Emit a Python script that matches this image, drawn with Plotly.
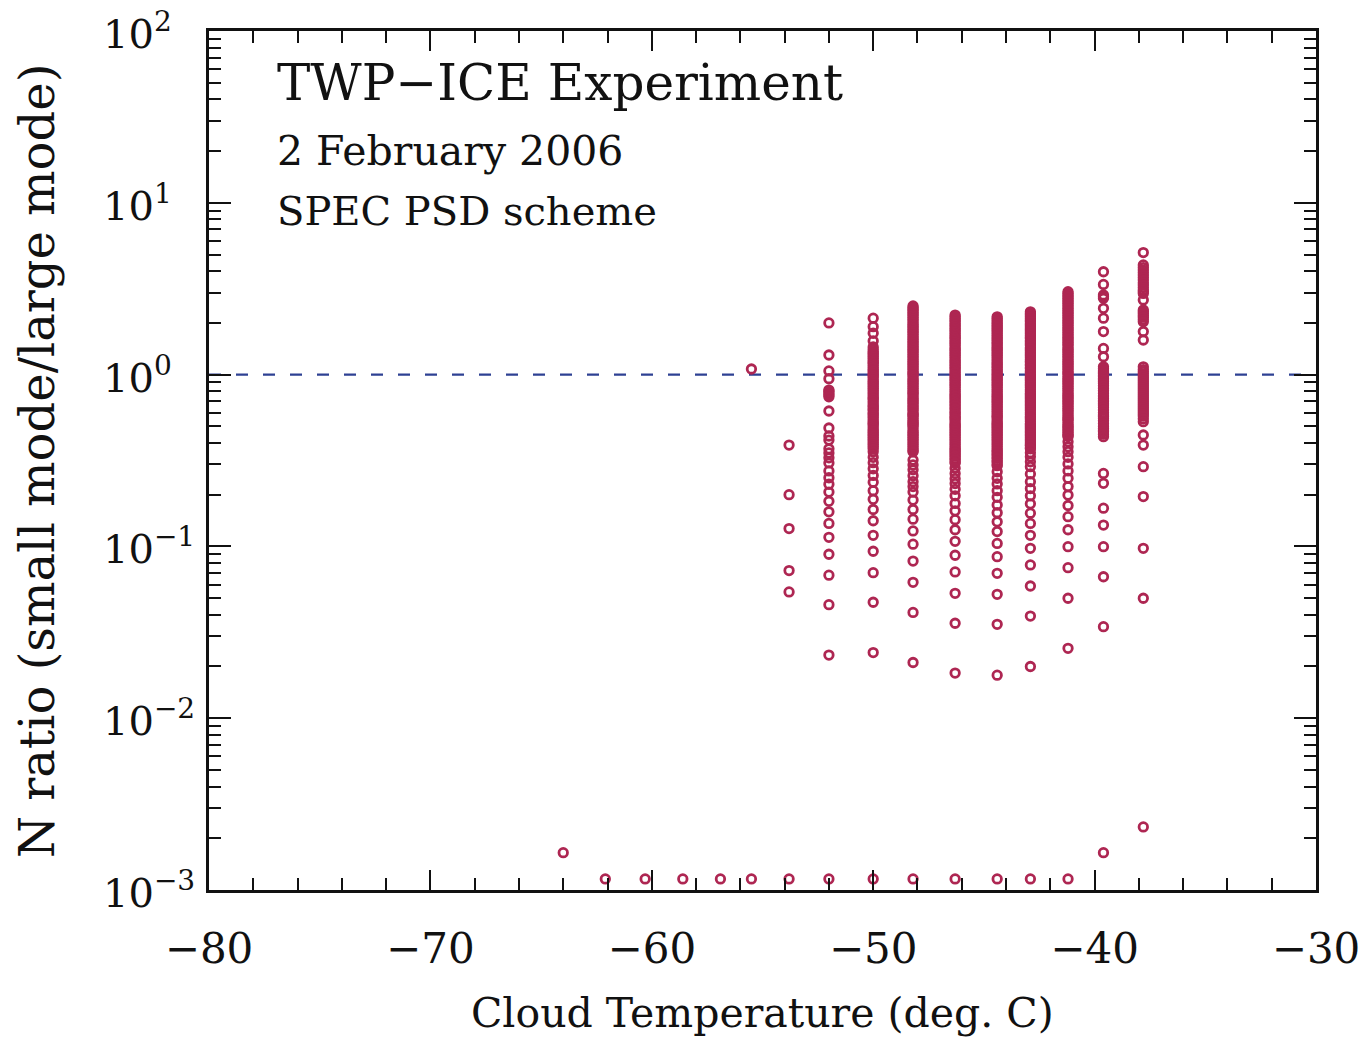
import plotly.graph_objects as go

# ---------------- data ----------------
col_temps = [-55.5, -53.8, -52.0, -50.0, -48.2, -46.3, -44.4, -42.9, -41.2, -39.6, -37.8]

vals_m55_5 = [1.078]
vals_m53_8 = [0.389, 0.200, 0.127, 0.0723, 0.0543]
vals_m52_0 = [2.00, 1.30, 1.05, 0.946, 0.813, 0.80, 0.78, 0.76, 0.743, 0.614, 0.489, 0.439,
              0.416, 0.370, 0.350, 0.328, 0.306, 0.275, 0.251, 0.230, 0.207, 0.183, 0.159,
              0.136, 0.113, 0.090, 0.068, 0.0458, 0.0233]
vals_m50_0 = [2.13, 1.90, 1.74, 1.57, 1.45, 1.40, 1.36, 1.33, 1.30, 1.27, 1.24, 1.21, 1.18,
              1.16, 1.13, 1.10, 1.07, 1.05, 1.02, 1.00, 0.98, 0.96, 0.93, 0.91, 0.89, 0.87,
              0.85, 0.83, 0.81, 0.79, 0.77, 0.75, 0.73, 0.72, 0.70, 0.68, 0.66, 0.65, 0.63,
              0.62, 0.60, 0.59, 0.575, 0.56, 0.545, 0.53, 0.52, 0.51, 0.495, 0.48, 0.47,
              0.46, 0.45, 0.44, 0.43, 0.42, 0.41, 0.40, 0.39, 0.38, 0.37, 0.356, 0.330,
              0.307, 0.283, 0.259, 0.236, 0.211, 0.188, 0.164, 0.141, 0.116, 0.0937, 0.0703,
              0.0473, 0.0241]
vals_m48_2 = [2.51, 2.45, 2.40, 2.35, 2.30, 2.25, 2.20, 2.15, 2.10, 2.05, 2.00, 1.95, 1.91,
              1.87, 1.83, 1.79, 1.75, 1.71, 1.67, 1.63, 1.60, 1.56, 1.53, 1.49, 1.46, 1.43,
              1.40, 1.37, 1.34, 1.31, 1.28, 1.25, 1.22, 1.19, 1.17, 1.14, 1.12, 1.09, 1.07,
              1.04, 1.02, 1.00, 0.98, 0.95, 0.93, 0.91, 0.89, 0.87, 0.85, 0.83, 0.81, 0.79,
              0.78, 0.76, 0.74, 0.72, 0.71, 0.69, 0.68, 0.66, 0.65, 0.63, 0.62, 0.60, 0.59,
              0.58, 0.57, 0.555, 0.54, 0.53, 0.52, 0.51, 0.50, 0.485, 0.47, 0.46, 0.45, 0.44,
              0.43, 0.42, 0.41, 0.40, 0.39, 0.38, 0.37, 0.36, 0.355, 0.318, 0.298, 0.279,
              0.258, 0.238, 0.223, 0.207, 0.186, 0.164, 0.144, 0.123, 0.103, 0.0822, 0.0618,
              0.0413, 0.0211]
vals_m46_3 = [2.22, 2.17, 2.12, 2.07, 2.03, 1.98, 1.94, 1.89, 1.85, 1.81, 1.77, 1.73, 1.69,
              1.65, 1.62, 1.58, 1.55, 1.51, 1.48, 1.44, 1.41, 1.38, 1.35, 1.32, 1.29, 1.26,
              1.23, 1.20, 1.18, 1.15, 1.13, 1.10, 1.08, 1.05, 1.03, 1.00, 0.98, 0.96, 0.94,
              0.92, 0.90, 0.88, 0.86, 0.84, 0.82, 0.80, 0.78, 0.76, 0.75, 0.73, 0.72, 0.70,
              0.69, 0.67, 0.66, 0.64, 0.63, 0.61, 0.60, 0.585, 0.57, 0.56, 0.55, 0.535,
              0.52, 0.51, 0.50, 0.49, 0.48, 0.47, 0.46, 0.45, 0.44, 0.43, 0.42, 0.41, 0.40,
              0.39, 0.38, 0.37, 0.365, 0.355, 0.35, 0.34, 0.335, 0.325, 0.32, 0.31, 0.305,
              0.285, 0.266, 0.248, 0.232, 0.215, 0.197, 0.178, 0.161, 0.143, 0.125, 0.107,
              0.0888, 0.0710, 0.0533, 0.0357, 0.0183]
vals_m44_4 = [2.17, 2.12, 2.07, 2.02, 1.98, 1.93, 1.89, 1.85, 1.81, 1.77, 1.73, 1.69, 1.65,
              1.61, 1.58, 1.54, 1.51, 1.47, 1.44, 1.41, 1.38, 1.35, 1.32, 1.29, 1.26, 1.23,
              1.20, 1.17, 1.15, 1.12, 1.10, 1.07, 1.05, 1.02, 1.00, 0.98, 0.96, 0.94, 0.92,
              0.90, 0.88, 0.86, 0.84, 0.82, 0.80, 0.78, 0.76, 0.745, 0.73, 0.715, 0.70, 0.685,
              0.67, 0.655, 0.64, 0.625, 0.61, 0.595, 0.58, 0.57, 0.56, 0.545, 0.53, 0.52,
              0.51, 0.50, 0.49, 0.48, 0.47, 0.46, 0.45, 0.44, 0.43, 0.42, 0.41, 0.40, 0.39,
              0.38, 0.37, 0.36, 0.355, 0.345, 0.34, 0.33, 0.325, 0.315, 0.31, 0.30, 0.295,
              0.272, 0.249, 0.231, 0.211, 0.193, 0.174, 0.157, 0.139, 0.122, 0.104, 0.0871,
              0.0697, 0.0526, 0.0352, 0.0178]
vals_m42_9 = [2.32, 2.27, 2.22, 2.17, 2.12, 2.07, 2.03, 1.98, 1.94, 1.89, 1.85, 1.81, 1.77,
              1.73, 1.69, 1.65, 1.62, 1.58, 1.55, 1.51, 1.48, 1.44, 1.41, 1.38, 1.35, 1.32,
              1.29, 1.26, 1.23, 1.20, 1.18, 1.15, 1.13, 1.10, 1.08, 1.05, 1.03, 1.00, 0.98,
              0.96, 0.94, 0.92, 0.90, 0.88, 0.86, 0.84, 0.82, 0.80, 0.78, 0.765, 0.75, 0.735,
              0.72, 0.705, 0.69, 0.675, 0.66, 0.645, 0.63, 0.615, 0.60, 0.585, 0.57, 0.56,
              0.55, 0.535, 0.52, 0.51, 0.50, 0.49, 0.48, 0.47, 0.46, 0.45, 0.44, 0.43, 0.42,
              0.41, 0.40, 0.39, 0.385, 0.375, 0.37, 0.351, 0.333, 0.311, 0.291, 0.264, 0.238,
              0.217, 0.197, 0.177, 0.156, 0.136, 0.116, 0.0975, 0.0780, 0.0588, 0.0393, 0.0200]
vals_m41_2 = [3.04, 2.97, 2.90, 2.83, 2.77, 2.71, 2.65, 2.59, 2.53, 2.47, 2.42, 2.36, 2.31,
              2.26, 2.21, 2.16, 2.11, 2.06, 2.02, 1.97, 1.93, 1.88, 1.84, 1.80, 1.76, 1.72,
              1.68, 1.64, 1.61, 1.57, 1.54, 1.50, 1.47, 1.43, 1.40, 1.37, 1.34, 1.31, 1.28,
              1.25, 1.22, 1.19, 1.17, 1.14, 1.12, 1.09, 1.07, 1.04, 1.02, 1.00, 0.97, 0.95,
              0.93, 0.91, 0.89, 0.87, 0.85, 0.83, 0.81, 0.79, 0.77, 0.755, 0.74, 0.725, 0.71,
              0.695, 0.68, 0.665, 0.65, 0.635, 0.62, 0.605, 0.59, 0.575, 0.56, 0.55, 0.54,
              0.525, 0.51, 0.50, 0.49, 0.48, 0.47, 0.46, 0.45, 0.44, 0.436, 0.407, 0.380,
              0.356, 0.330, 0.302, 0.275, 0.249, 0.223, 0.199, 0.173, 0.149, 0.125, 0.0996,
              0.0752, 0.0499, 0.0255]
vals_m39_6 = [3.97, 3.35, 2.91, 2.84, 2.78, 2.43, 2.13, 1.78, 1.42, 1.27, 1.11, 1.08, 1.05,
              1.03, 1.01, 0.99, 0.972, 0.95, 0.93, 0.91, 0.89, 0.86, 0.832, 0.805, 0.778,
              0.75, 0.728, 0.71, 0.695, 0.68, 0.665, 0.645, 0.622, 0.60, 0.582, 0.57, 0.557,
              0.538, 0.520, 0.50, 0.486, 0.475, 0.465, 0.45, 0.435, 0.266, 0.233, 0.167,
              0.133, 0.0996, 0.0666, 0.0341]
vals_m37_8 = [5.13, 4.35, 4.20, 4.06, 3.93, 3.80, 3.67, 3.55, 3.43, 3.32, 3.21, 3.11, 3.04,
              2.97, 2.72, 2.38, 2.32, 2.27, 2.21, 2.16, 2.09, 2.03, 1.78, 1.59, 1.11, 1.07,
              1.04, 1.01, 0.982, 0.955, 0.930, 0.905, 0.881, 0.858, 0.836, 0.814, 0.792,
              0.771, 0.751, 0.731, 0.711, 0.692, 0.674, 0.656, 0.639, 0.622, 0.606, 0.59,
              0.574, 0.553, 0.532, 0.445, 0.389, 0.291, 0.195, 0.0975, 0.0499]

column_values = [vals_m55_5, vals_m53_8, vals_m52_0, vals_m50_0, vals_m48_2, vals_m46_3,
                 vals_m44_4, vals_m42_9, vals_m41_2, vals_m39_6, vals_m37_8]

floor_temps = [-64.0, -62.1, -60.3, -58.6, -56.9, -55.5, -53.8, -52.0, -50.0, -48.2,
               -46.3, -44.4, -42.9, -41.2, -39.6, -37.8]
floor_vals = [0.00165, 0.00116, 0.00116, 0.00116, 0.00116, 0.00116, 0.00116, 0.00116,
              0.00116, 0.00116, 0.00116, 0.00116, 0.00116, 0.00116, 0.00165, 0.00233]

ref_line_value = 1.0
x_range = [-80, -30]
y_decades = [-3, -2, -1, 0, 1, 2]
x_ticks = [-80, -70, -60, -50, -40, -30]
x_tick_text = ["\u221280", "\u221270", "\u221260", "\u221250", "\u221240", "\u221230"]
y_tick_text = ["10<sup>\u22123</sup>", "10<sup>\u22122</sup>", "10<sup>\u22121</sup>",
               "10<sup>0</sup>", "10<sup>1</sup>", "10<sup>2</sup>"]

# ---------------- build ----------------
xs, ys = [], []
for t, vals in zip(col_temps, column_values):
    xs += [t] * len(vals)
    ys += vals
xs += floor_temps
ys += floor_vals

FONT = "DejaVu Serif"
MARK = "#AE2652"
INK = "#111111"

fig = go.Figure()
fig.add_trace(go.Scatter(
    x=xs, y=ys, mode="markers",
    marker=dict(symbol="circle-open", size=8.5, color=MARK, line=dict(width=2.8, color=MARK)),
    showlegend=False, hoverinfo="skip"))

fig.add_shape(type="line", xref="paper", x0=0, x1=1, yref="y", y0=ref_line_value, y1=ref_line_value,
              line=dict(color="#2E4193", width=2.4, dash="12px,15px"), layer="below")

fig.update_layout(
    width=1367, height=1037,
    margin=dict(l=209, r=51, t=31, b=147, autoexpand=False),
    paper_bgcolor="white", plot_bgcolor="white",
    font=dict(family=FONT, color=INK),
    showlegend=False,
)

fig.update_xaxes(
    range=x_range, showgrid=False, zeroline=False,
    showline=True, linewidth=2.5, linecolor=INK, mirror="allticks",
    ticks="inside", ticklen=20, tickwidth=2, tickcolor=INK,
    tickvals=x_ticks, ticktext=x_tick_text,
    tickfont=dict(family=FONT, size=42, color=INK),
    ticklabelstandoff=20,
    minor=dict(ticks="inside", ticklen=12, tickwidth=2, tickcolor=INK, dtick=2, showgrid=False),
)
fig.update_yaxes(
    type="log", range=[-3, 2], showgrid=False, zeroline=False,
    showline=True, linewidth=2.5, linecolor=INK, mirror="allticks",
    ticks="inside", ticklen=22, tickwidth=2, tickcolor=INK,
    tickvals=[10 ** d for d in y_decades], showticklabels=False,
    minor=dict(ticks="inside", ticklen=12, tickwidth=2, tickcolor=INK, dtick="D1", showgrid=False),
)

# left-aligned y tick labels (as in the reference)
for d, txt in zip(y_decades, y_tick_text):
    fig.add_annotation(xref="paper", yref="y", x=-0.0975, y=d, xanchor="left", yanchor="middle",
                       text=txt, showarrow=False, font=dict(family=FONT, size=40, color=INK))

# text labels
fig.add_annotation(xref="paper", yref="paper", x=0.060, y=0.9395, xanchor="left", yanchor="middle",
                   text="TWP\u2212ICE Experiment", showarrow=False,
                   font=dict(family=FONT, size=50, color=INK))
fig.add_annotation(xref="paper", yref="paper", x=0.060, y=0.860, xanchor="left", yanchor="middle",
                   text="2 February 2006", showarrow=False,
                   font=dict(family=FONT, size=41, color=INK))
fig.add_annotation(xref="paper", yref="paper", x=0.060, y=0.790, xanchor="left", yanchor="middle",
                   text="SPEC PSD scheme", showarrow=False,
                   font=dict(family=FONT, size=40, color=INK))

# axis titles
fig.add_annotation(xref="paper", yref="paper", x=0.5, y=-0.1432, xanchor="center", yanchor="middle",
                   text="Cloud Temperature (deg. C)", showarrow=False,
                   font=dict(family=FONT, size=41, color=INK))
fig.add_annotation(xref="paper", yref="paper", x=-0.1554, y=0.4994, xanchor="center", yanchor="middle",
                   text="N ratio (small mode/large mode)", showarrow=False, textangle=-90,
                   font=dict(family=FONT, size=48, color=INK))

fig.write_html("out.html")
